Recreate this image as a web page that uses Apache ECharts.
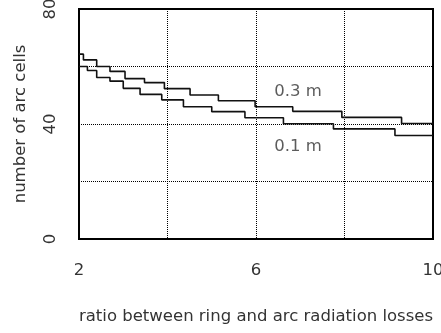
<!DOCTYPE html>
<html>
<head>
<meta charset="utf-8">
<script src="https://cdn.jsdelivr.net/npm/echarts@6/dist/echarts.min.js"></script>
<style>html,body{margin:0;padding:0;background:#fff;}#c{width:441px;height:333px;}</style>
</head>
<body>
<div id="c"></div>
<script>
var xTickLabels = [2, 6, 10];
var yTickLabels = [0, 40, 80];
var x03 = [2, 2.10, 2.40, 2.70, 3.04, 3.48, 3.93, 4.51, 5.15, 5.98, 6.83, 7.94, 9.29, 10];
var y03 = [64.3, 62.3, 60.0, 58.3, 55.8, 54.4, 52.3, 50.1, 48.1, 46.0, 44.4, 42.3, 40.2, 40.2];
var x01 = [2, 2.19, 2.40, 2.70, 3.00, 3.38, 3.87, 4.36, 5.00, 5.75, 6.62, 7.75, 9.14, 10];
var y01 = [60.0, 58.6, 56.2, 54.9, 52.4, 50.3, 48.4, 46.0, 44.3, 42.2, 40.1, 38.3, 36.0, 36.0];
var seriesLabels = ['0.3 m', '0.1 m'];
var labelX = [6.95, 6.95];
var labelY = [51.1, 32.0];

function zip(a, b) { return a.map(function (v, i) { return [v, b[i]]; }); }

var FONT = 'DejaVu Sans';
var FS = 16.5;
var TXT = '#333';
var chart = echarts.init(document.getElementById('c'), null, {renderer: 'canvas'});
chart.setOption({
  animation: false,
  grid: {left: 79, right: 8, top: 9, bottom: 94, outerBoundsMode: 'none', containLabel: false,
         show: true, borderColor: '#000', borderWidth: 2, backgroundColor: 'transparent'},
  xAxis: {
    type: 'value', min: 2, max: 10, interval: 2,
    name: 'ratio between ring and arc radiation losses',
    nameLocation: 'middle', nameGap: 69,
    nameTextStyle: {fontFamily: FONT, fontSize: FS, color: TXT},
    axisLine: {show: false}, axisTick: {show: false},
    axisLabel: {
      margin: 23, fontFamily: FONT, fontSize: FS, color: TXT,
      formatter: function (v) { return xTickLabels.indexOf(v) >= 0 ? String(v) : ''; }
    },
    splitLine: {show: true, lineStyle: {type: 'dotted', color: '#000', width: 1}}
  },
  yAxis: {
    type: 'value', min: 0, max: 80, interval: 20,
    name: 'number of arc cells',
    nameLocation: 'middle', nameGap: 50,
    nameTextStyle: {fontFamily: FONT, fontSize: FS, color: TXT},
    axisLine: {show: false}, axisTick: {show: false},
    axisLabel: {
      rotate: 90, margin: 20, fontFamily: FONT, fontSize: FS, color: TXT,
      formatter: function (v) { return yTickLabels.indexOf(v) >= 0 ? String(v) : ''; }
    },
    splitLine: {show: true, lineStyle: {type: 'dotted', color: '#000', width: 1}}
  },
  series: [
    {type: 'line', step: 'end', data: zip(x03, y03), symbol: 'none', lineStyle: {color: '#111', width: 1.6}},
    {type: 'line', step: 'end', data: zip(x01, y01), symbol: 'none', lineStyle: {color: '#111', width: 1.6}},
    {type: 'scatter', symbolSize: 0,
     data: labelX.map(function (v, i) { return {value: [v, labelY[i]], name: seriesLabels[i]}; }),
     label: {show: true, position: 'inside', formatter: '{b}', fontFamily: FONT, fontSize: FS, color: TXT}}
  ]
});
</script>
</body>
</html>
